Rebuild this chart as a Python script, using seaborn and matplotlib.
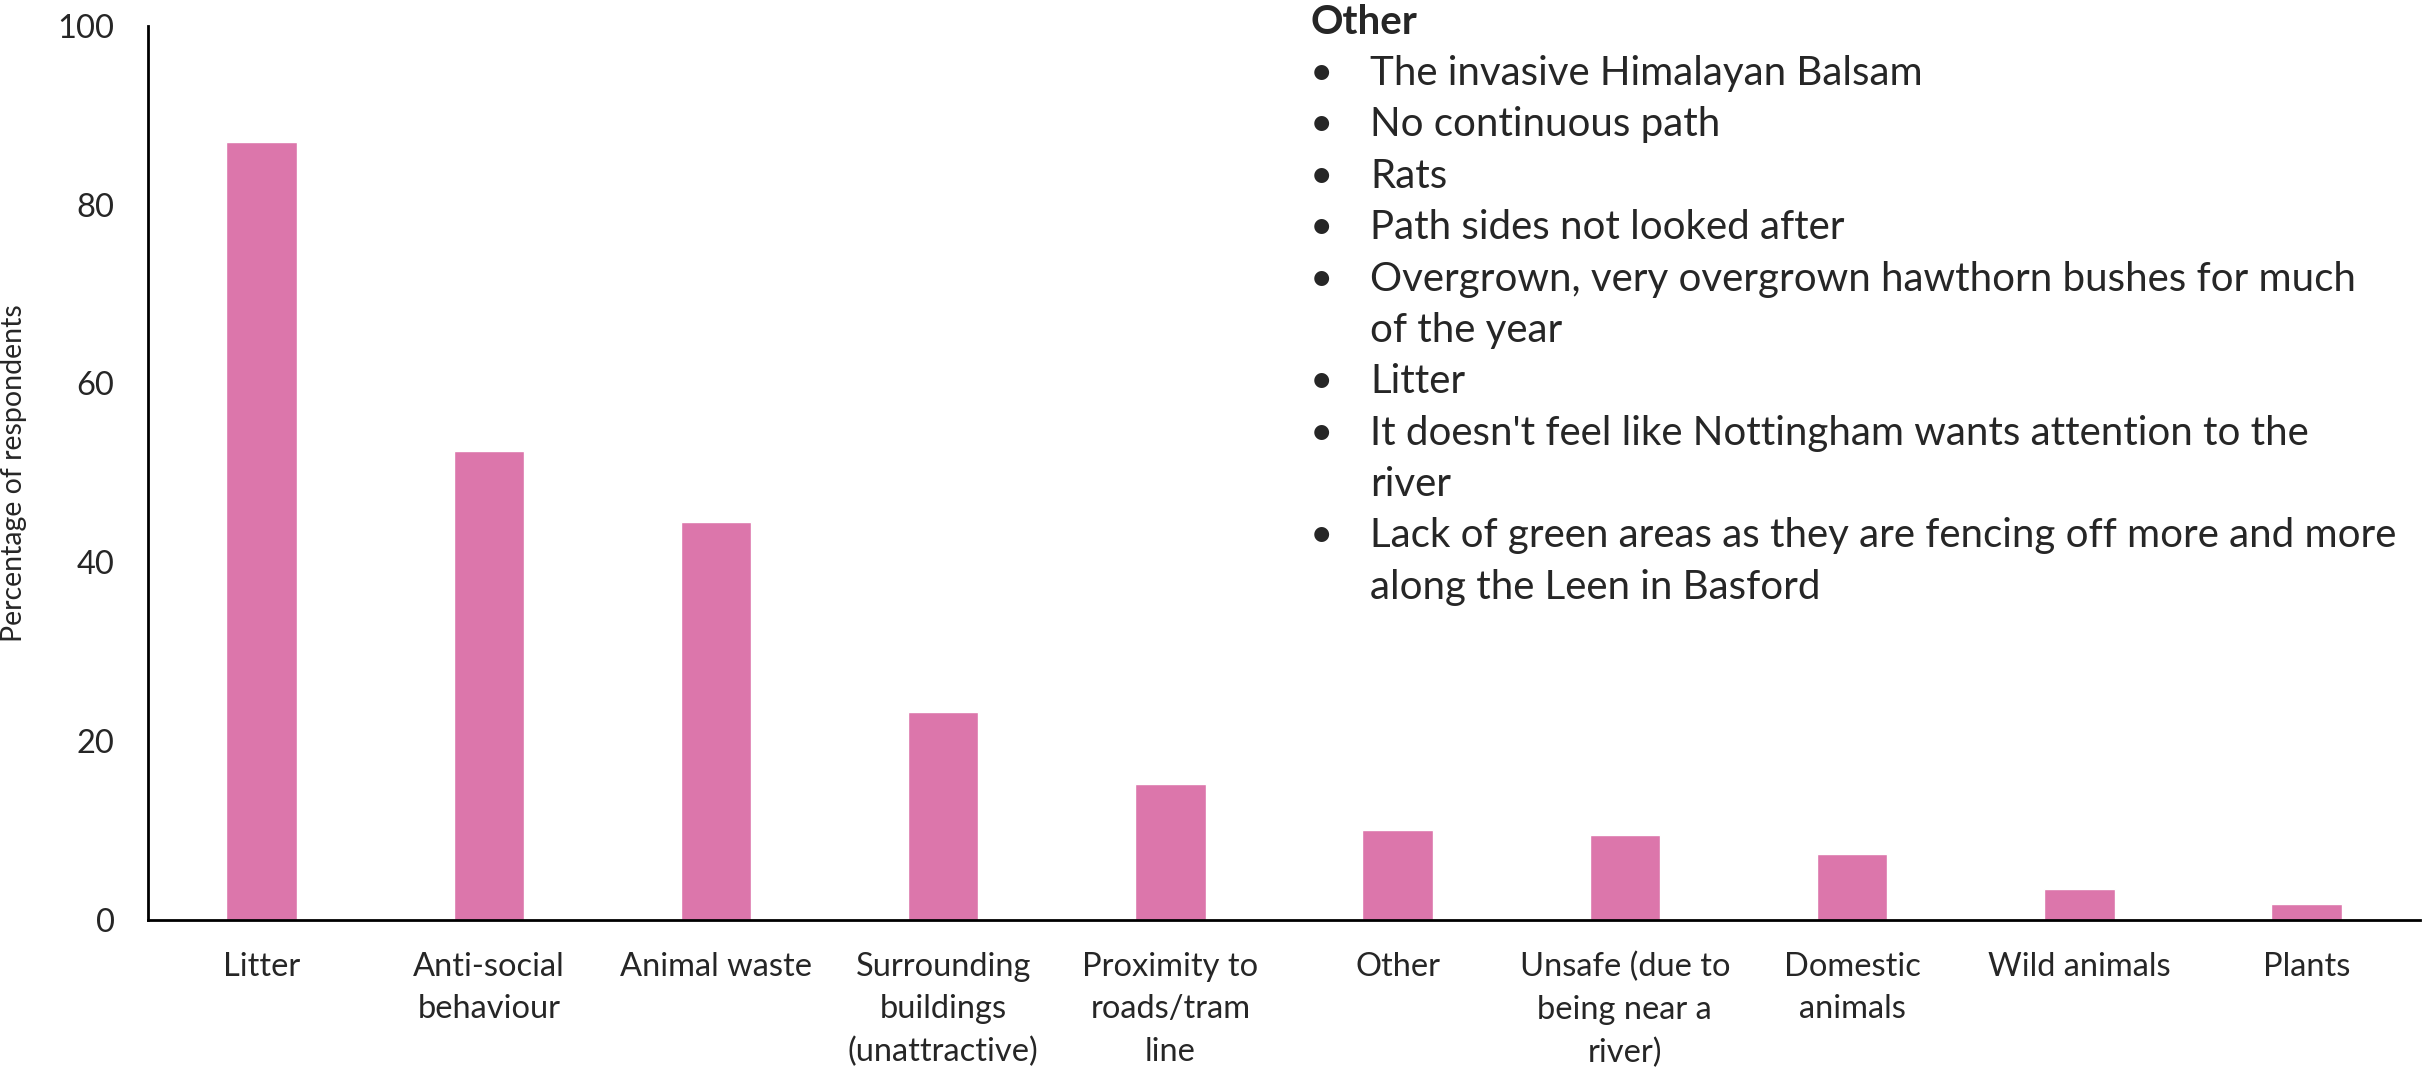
import numpy as np
import pandas as pd
import seaborn as sns
import matplotlib.pyplot as plt


# data
categories = ['Litter', 'Anti-social\nbehaviour', 'Animal waste', 'Surrounding\nbuildings\n(unattractive)',
              'Proximity to\nroads/tram\nline', 'Other', 'Unsafe (due to\nbeing near a\nriver)', 'Domestic\nanimals',
              'Wild animals', 'Plants']
percentages = [87.0, 52.5, 44.5, 23.3, 15.2, 10.1, 9.5, 7.4, 3.5, 1.8]

other_title = 'Other'
other_lines = [
    ('\u2022', 'The invasive Himalayan Balsam'),
    ('\u2022', 'No continuous path'),
    ('\u2022', 'Rats'),
    ('\u2022', 'Path sides not looked after'),
    ('\u2022', 'Overgrown, very overgrown hawthorn bushes for much'),
    ('', 'of the year'),
    ('\u2022', 'Litter'),
    ('\u2022', "It doesn't feel like Nottingham wants attention to the"),
    ('', 'river'),
    ('\u2022', 'Lack of green areas as they are fencing off more and more'),
    ('', 'along the Leen in Basford'),
]

df = pd.DataFrame({'category': categories, 'pct': percentages})


# plotting
sns.set_style("white")
plt.rcParams['font.family'] = ['Lato', 'DejaVu Sans']
fs_tick = 23.5
fs_box = 29

fig = plt.figure(figsize=(24.25, 10.76), dpi=100)
ax = fig.add_axes([0.061, 0.145, 0.937, 0.831])

sns.barplot(ax=ax, data=df, x='category', y='pct', order=categories, color='#DC76AB',
            saturation=1, width=0.31)

ax.set_xlim(-0.5, len(categories) - 0.5)
ax.set_ylim(0, 100)
ax.set_yticks([0, 20, 40, 60, 80, 100])
ax.set_xlabel('')
ax.set_ylabel('Percentage of respondents', fontsize=20.5)
ax.yaxis.set_label_coords(-0.053, 0.5)
ax.tick_params(axis='both', length=0, labelsize=fs_tick)
ax.tick_params(axis='x', pad=23)
ax.tick_params(axis='y', pad=24)
for lbl in ax.get_xticklabels():
    lbl.set_linespacing(1.52)
    lbl.set_verticalalignment('top')

sns.despine(ax=ax)
for side in ['left', 'bottom']:
    ax.spines[side].set_color('black')
    ax.spines[side].set_linewidth(2)

# "Other" responses text box
x_bullet = 1310 / 2425
x_text = 1370 / 2425
y0 = 1 - 22 / 1076
step = 51.4 / 1076
fig.text(x_bullet, y0, other_title, fontsize=fs_box, fontweight='bold', va='center', ha='left')
for i, (b, t) in enumerate(other_lines):
    y = y0 - step * (i + 1)
    if b:
        fig.text(x_bullet, y, b, fontsize=fs_box, va='center', ha='left')
    fig.text(x_text, y, t, fontsize=fs_box, va='center', ha='left')

fig.savefig('out.png', dpi=100)
